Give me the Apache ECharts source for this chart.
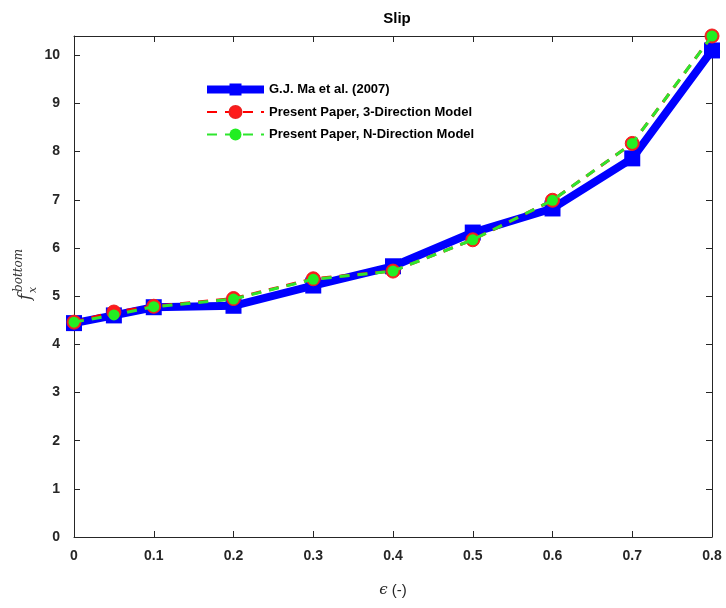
<!DOCTYPE html>
<html>
<head>
<meta charset="utf-8">
<script src="https://cdn.jsdelivr.net/npm/echarts@6/dist/echarts.min.js"></script>
<style>html,body{margin:0;padding:0;background:#fff}#c{width:726px;height:608px}</style>
</head>
<body>
<div id="c"></div>
<script>
var epsilon = [0, 0.05, 0.1, 0.2, 0.3, 0.4, 0.5, 0.6, 0.7, 0.8];
var maValues = [4.44, 4.6, 4.77, 4.8, 5.22, 5.62, 6.32, 6.82, 7.86, 10.1];
var threeDirValues = [4.46, 4.67, 4.79, 4.95, 5.36, 5.52, 6.17, 6.99, 8.17, 10.4];
var nDirValues = [4.46, 4.61, 4.78, 4.94, 5.35, 5.52, 6.17, 6.99, 8.17, 10.4];
var seriesNames = ['G.J. Ma et al. (2007)', 'Present Paper, 3-Direction Model', 'Present Paper, N-Direction Model'];
var xTicks = [0, 0.1, 0.2, 0.3, 0.4, 0.5, 0.6, 0.7, 0.8];
var yTicks = [0, 1, 2, 3, 4, 5, 6, 7, 8, 9, 10];

function pairs(xs, ys) { return xs.map(function (x, i) { return [x, ys[i]]; }); }

var chart = echarts.init(document.getElementById('c'));
var FONT = 'Liberation Sans, Arial, sans-serif';
var labelStyle = { color: '#262626', fontSize: 14, fontWeight: 'bold', fontFamily: FONT };
var axisLine = { show: true, onZero: false, lineStyle: { color: '#262626', width: 1 } };
var tickStyle = { show: true, inside: true, length: 6, lineStyle: { color: '#262626' } };

chart.setOption({
  animation: false,
  backgroundColor: '#fff',
  title: {
    text: 'Slip', left: 392, top: 6, textAlign: 'center',
    textStyle: { fontSize: 15, fontWeight: 'bold', color: '#000', fontFamily: FONT }
  },
  grid: { left: 74, right: 14, top: 36, bottom: 71 },
  legend: {
    orient: 'vertical', left: 198, top: 78, itemWidth: 57, itemHeight: 15, itemGap: 9,
    data: [
      { name: seriesNames[0], lineStyle: { width: 8 } },
      { name: seriesNames[1] },
      { name: seriesNames[2] }
    ],
    textStyle: { fontSize: 13, fontWeight: 'bold', color: '#000', fontFamily: FONT }
  },
  xAxis: [{
    type: 'value', min: 0, max: 0.8, interval: 0.1,
    axisLine: axisLine, axisTick: tickStyle, splitLine: { show: false },
    axisLabel: Object.assign({ margin: 12, formatter: function (v) { return xTicks.indexOf(Math.round(v * 10) / 10) >= 0 ? String(Math.round(v * 10) / 10) : ''; } }, labelStyle),
    name: '{e|ϵ} (-)', nameLocation: 'middle', nameGap: 46,
    nameTextStyle: { fontSize: 15, color: '#262626', fontFamily: FONT, rich: { e: { fontFamily: 'DejaVu Serif', fontStyle: 'italic', fontSize: 15, color: '#262626' } } }
  }, {
    type: 'value', position: 'top', min: 0, max: 0.8, interval: 0.1,
    axisLine: axisLine, axisTick: tickStyle, axisLabel: { show: false }, splitLine: { show: false }
  }],
  yAxis: [{
    type: 'value', min: 0, max: 10.4, interval: 1,
    axisLine: axisLine, axisTick: tickStyle, splitLine: { show: false },
    axisLabel: Object.assign({ margin: 14, formatter: function (v) { return yTicks.indexOf(v) >= 0 ? String(v) : ''; } }, labelStyle)
  }, {
    type: 'value', position: 'right', min: 0, max: 10.4, interval: 1,
    axisLine: axisLine, axisTick: tickStyle, axisLabel: { show: false }, splitLine: { show: false }
  }],
  graphic: [{
    type: 'group', x: 26, y: 300, rotation: Math.PI / 2,
    children: [
      { type: 'text', x: 0, y: 0, style: { text: 'f', font: 'italic 17px DejaVu Serif', fill: '#333', textVerticalAlign: 'middle' } },
      { type: 'text', x: 8, y: -7, style: { text: 'bottom', font: 'italic 12px DejaVu Serif', fill: '#333', textVerticalAlign: 'middle' } },
      { type: 'text', x: 7, y: 7, style: { text: 'x', font: 'italic 11px DejaVu Serif', fill: '#333', textVerticalAlign: 'middle' } }
    ]
  }],
  series: [{
    name: seriesNames[0], type: 'line', data: pairs(epsilon, maValues),
    symbol: 'rect', symbolSize: 16, showSymbol: true,
    lineStyle: { color: '#0000ff', width: 8 }, itemStyle: { color: '#0000ff' }, z: 2
  }, {
    name: seriesNames[1], type: 'line', data: pairs(epsilon, threeDirValues),
    symbol: 'circle', symbolSize: 14,
    lineStyle: { color: '#ff0000', width: 3, type: [10, 8] }, itemStyle: { color: '#ff1a1a', borderColor: '#ee2020', borderWidth: 1 }, z: 3
  }, {
    name: seriesNames[2], type: 'line', data: pairs(epsilon, nDirValues),
    symbol: 'circle', symbolSize: 11,
    lineStyle: { color: '#2ee62e', width: 3, type: [10, 8] }, itemStyle: { color: '#22ee22' }, z: 4
  }]
});
</script>
</body>
</html>
